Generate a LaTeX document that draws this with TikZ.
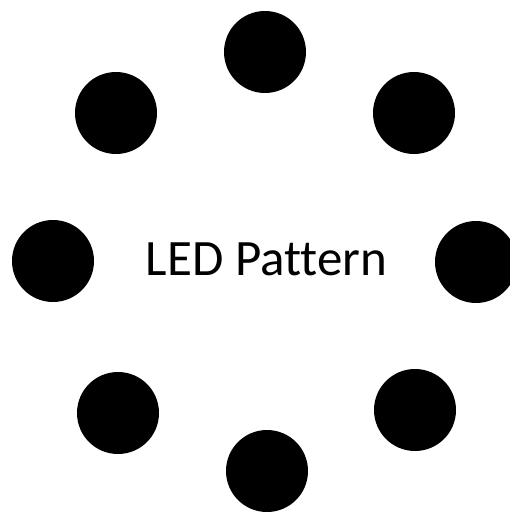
\documentclass[tikz,border=0pt]{standalone}
\usepackage{fontspec}
\setmainfont[Ligatures=NoCommon]{Carlito}
\usepackage{xcolor}
\tikzstyle{led}    = [draw=none, fill=black, circle, minimum size=82pt, inner sep=0pt, outer sep=0pt]
\tikzstyle{label}  = [inner sep=0pt, font=\fontsize{51pt}{60pt}\selectfont, text=black]

\begin{document}
\begin{tikzpicture}[x=1pt,y=-1pt]

\useasboundingbox (0,0) rectangle (509,513);

\node[led] (L1)   at (265,52) {};
\node[led] (L2)   at (414,113) {};
\node[led] (L3)   at (476,262) {};
\node[led] (L4)   at (415,410) {};
\node[led] (L5)   at (267,471) {};
\node[led] (L6)   at (118,413) {};
\node[led] (L7)   at (53,261) {};
\node[led] (L8)   at (116,113) {};

\node[label,anchor=base] (title) at (266.5,275) {LED Pattern};

\end{tikzpicture}
\end{document}
